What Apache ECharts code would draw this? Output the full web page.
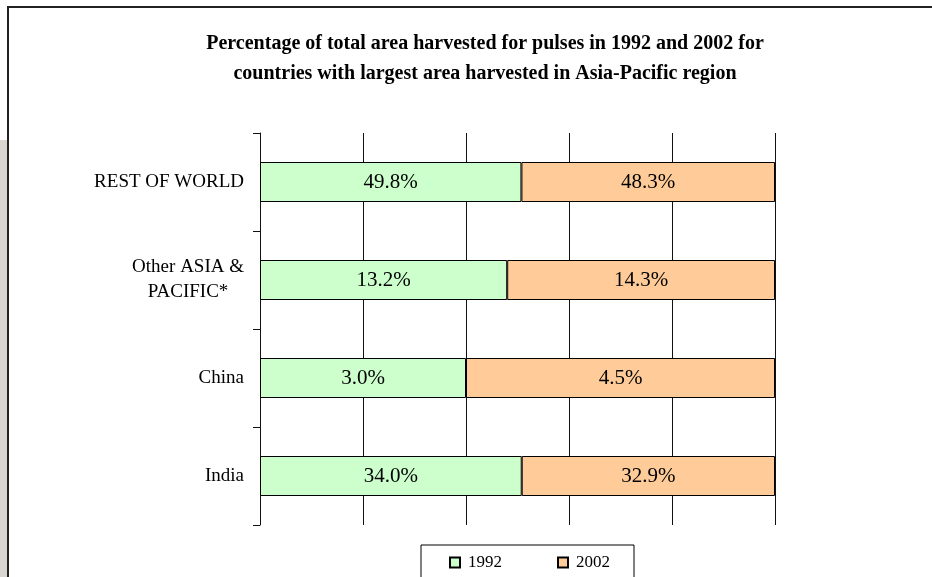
<!DOCTYPE html>
<html>
<head>
<meta charset="utf-8">
<script src="https://cdn.jsdelivr.net/npm/echarts@6/dist/echarts.min.js"></script>
<style>
html,body{margin:0;padding:0;background:#fff;}
#chart{width:932px;height:577px;}
</style>
</head>
<body>
<div id="chart"></div>
<script>
const categories = ['India', 'China', 'Other ASIA &\nPACIFIC*', 'REST OF WORLD'];
const values1992 = [34.0, 3.0, 13.2, 49.8];
const values2002 = [32.9, 4.5, 14.3, 48.3];
const seriesNames = ['1992', '2002'];
const titleText = 'Percentage of total area harvested for pulses in 1992 and 2002 for\ncountries with largest area harvested in Asia-Pacific region';

// 100% stacked: each bar's share of the row total, labels show original values
const share = (a, b) => a.map((v, i) => ({ value: v / (v + b[i]) * 100, raw: v }));
const d1992 = share(values1992, values2002);
const d2002 = share(values2002, values1992);

const FONT = '"Liberation Serif", "Times New Roman", serif';
const chart = echarts.init(document.getElementById('chart'), null, { renderer: 'canvas' });

const labelFmt = p => p.data.raw.toFixed(1) + '%';

chart.setOption({
  animation: false,
  backgroundColor: '#fff',
  title: {
    text: titleText,
    left: 480,
    textAlign: 'center',
    top: 24,
    textStyle: { fontFamily: FONT, fontWeight: 'bold', fontSize: 20, lineHeight: 30, color: '#000' }
  },
  graphic: [
    { type: 'rect', shape: { x: 0, y: 140, width: 7, height: 437 }, style: { fill: '#d9d5d1' }, silent: true },
    { type: 'line', shape: { x1: 8, y1: 7, x2: 932, y2: 7 }, style: { stroke: '#222', lineWidth: 2 }, silent: true },
    { type: 'line', shape: { x1: 8, y1: 6, x2: 8, y2: 577 }, style: { stroke: '#222', lineWidth: 2 }, silent: true }
  ],
  legend: {
    data: seriesNames,
    left: 421,
    top: 545,
    orient: 'horizontal',
    itemWidth: 10,
    itemHeight: 10,
    itemGap: 55,
    padding: [9, 24, 30, 28],
    borderColor: '#000',
    borderWidth: 1,
    icon: 'rect',
    textStyle: { fontFamily: FONT, fontSize: 17, color: '#000', padding: [0, 0, 0, 3] }
  },
  grid: { left: 260, right: 157, top: 133, bottom: 52, containLabel: false },
  xAxis: {
    type: 'value',
    min: 0,
    max: 100,
    interval: 20,
    axisLine: { show: false },
    axisTick: { show: false },
    axisLabel: { show: false },
    splitLine: { show: true, lineStyle: { color: '#111', width: 1 } }
  },
  yAxis: {
    type: 'category',
    data: categories,
    boundaryGap: true,
    axisLine: { show: true, lineStyle: { color: '#111', width: 1 } },
    axisTick: { show: true, length: 7, lineStyle: { color: '#111' } },
    axisLabel: {
      margin: 16,
      fontFamily: FONT,
      fontSize: 19,
      color: '#000',
      lineHeight: 25,
      formatter: v => v.split('\n').map(s => '{c|' + s + '}').join('\n'),
      rich: { c: { align: 'center', fontFamily: FONT, fontSize: 19, color: '#000', lineHeight: 25 } }
    }
  },
  series: [
    {
      name: seriesNames[0],
      type: 'bar',
      stack: 'total',
      barWidth: 40,
      data: d1992,
      itemStyle: { color: '#CCFFCC', borderColor: '#000', borderWidth: 1 },
      label: { show: true, position: 'inside', formatter: labelFmt, fontFamily: FONT, fontSize: 21, color: '#000' }
    },
    {
      name: seriesNames[1],
      type: 'bar',
      stack: 'total',
      barWidth: 40,
      data: d2002,
      itemStyle: { color: '#FFCC99', borderColor: '#000', borderWidth: 1 },
      label: { show: true, position: 'inside', formatter: labelFmt, fontFamily: FONT, fontSize: 21, color: '#000' }
    }
  ]
});
</script>
</body>
</html>
